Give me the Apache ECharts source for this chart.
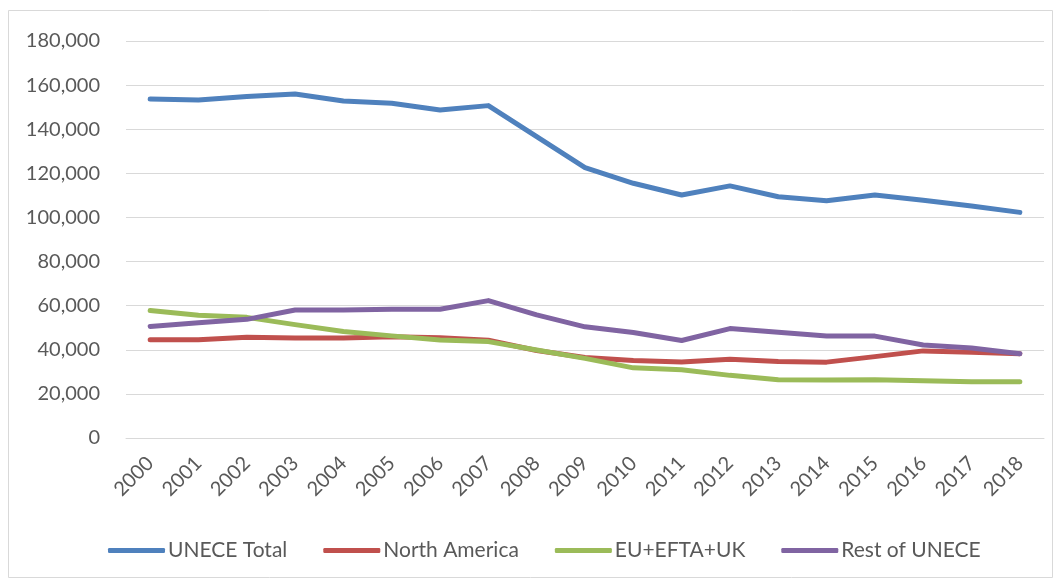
<!DOCTYPE html>
<html>
<head>
<meta charset="utf-8">
<script src="https://cdn.jsdelivr.net/npm/echarts@6/dist/echarts.min.js"></script>
<style>
html,body{margin:0;padding:0;background:#fff;}
#c{width:1061px;height:581px;}
</style>
</head>
<body>
<div id="c"></div>
<script>
const years = ['2000','2001','2002','2003','2004','2005','2006','2007','2008','2009','2010','2011','2012','2013','2014','2015','2016','2017','2018'];
const uneceTotal = [153700,153300,154800,156000,152800,151800,148700,150700,136600,122600,115500,110200,114300,109400,107600,110200,107800,105200,102300];
const northAmerica = [44600,44600,45700,45300,45300,45900,45500,44300,39700,36500,35100,34500,35700,34700,34400,36900,39500,38900,38200];
const euEftaUk = [57800,55700,54700,51400,48300,46300,44400,43700,39900,36100,31800,30900,28400,26400,26300,26400,26000,25500,25500];
const restOfUnece = [50600,52300,53800,58000,58000,58400,58400,62300,55800,50400,47800,44200,49600,47900,46300,46200,42200,40800,38200];
const seriesNames = ['UNECE Total','North America','EU+EFTA+UK','Rest of UNECE'];
const seriesColors = ['#4F81BD','#C0504D','#9BBB59','#8064A2'];

const chart = echarts.init(document.getElementById('c'), null, {renderer:'canvas'});
const font = 'Lato, "Open Sans", sans-serif';
const dataArr = [uneceTotal, northAmerica, euEftaUk, restOfUnece];
chart.setOption({
  animation:false,
  backgroundColor:'#fff',
  textStyle:{fontFamily:font},
  graphic:[{type:'rect',shape:{x:8.5,y:10.5,width:1044,height:567},style:{fill:'none',stroke:'#D9D9D9',lineWidth:1},silent:true}],
  grid:{left:126,right:17,top:41,bottom:143,containLabel:false},
  legend:{
    data:seriesNames,
    left:103, top:535,
    icon:'roundRect',
    itemWidth:57, itemHeight:5, itemGap:36,
    textStyle:{color:'#595959',fontSize:21,fontFamily:font,padding:[0,0,0,-2]}
  },
  xAxis:{
    type:'category',
    data:years,
    boundaryGap:true,
    axisLine:{lineStyle:{color:'#D9D9D9',width:1}},
    axisTick:{show:false},
    axisLabel:{rotate:45,color:'#595959',fontSize:20,fontFamily:font,margin:22,interval:0}
  },
  yAxis:{
    type:'value',
    min:0,max:180000,interval:20000,
    axisLine:{show:false},
    axisTick:{show:false},
    splitLine:{lineStyle:{color:'#D9D9D9',width:1}},
    axisLabel:{color:'#595959',fontSize:20,fontFamily:font,margin:26,
      formatter:v=>v.toLocaleString('en-US')}
  },
  series: seriesNames.map((n,i)=>({
    name:n, type:'line', data:dataArr[i], symbol:'none', smooth:false,
    lineStyle:{color:seriesColors[i],width:5,cap:'round',join:'round'},
    itemStyle:{color:seriesColors[i]}
  }))
});
</script>
</body>
</html>
